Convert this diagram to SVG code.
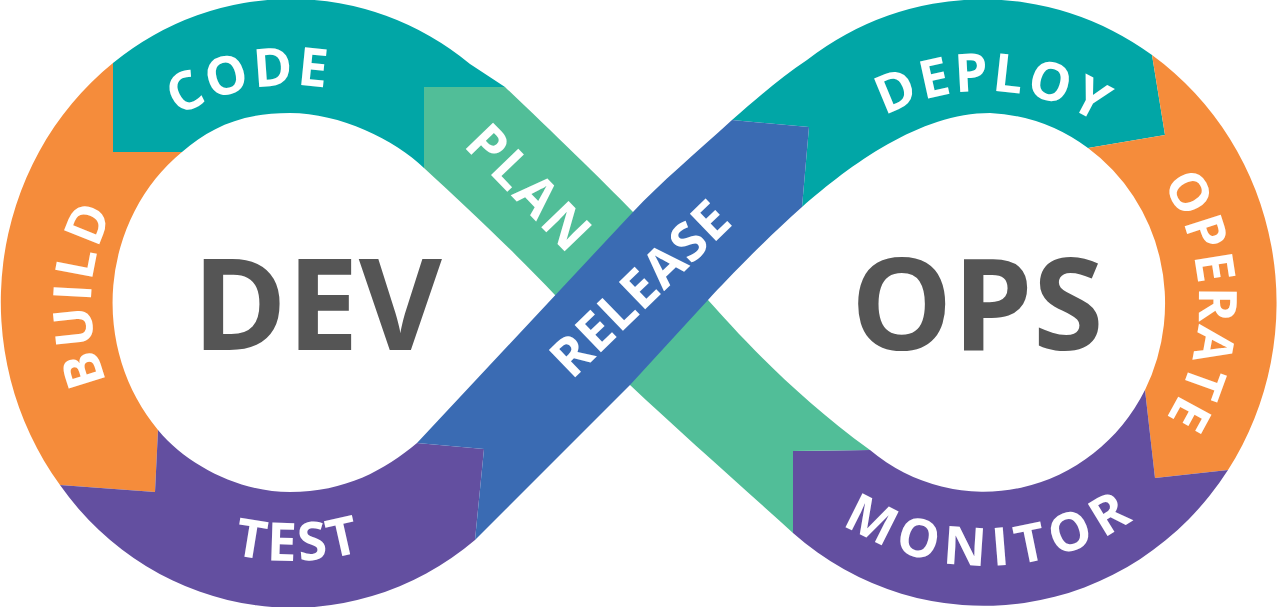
<svg xmlns="http://www.w3.org/2000/svg" width="1280" height="607" viewBox="0 0 1280 607">
<defs>
<style>
.teal{fill:#01A6A6}
.orange{fill:#F58C3B}
.purple{fill:#634FA0}
.blue{fill:#3A6BB3}
.green{fill:#51BE98}
.lbl{fill:#FFFFFF;font-family:"Open Sans","Liberation Sans",sans-serif;font-weight:700;font-size:53px;letter-spacing:3px}
.big{fill:#555555;font-family:"Open Sans","Liberation Sans",sans-serif;font-weight:700;font-size:128px}
</style>
<path id="pCode" d="M73,303 A218,218 0 0 1 509,303"/>
<path id="pBuild" d="M291,503 A200,200 0 0 1 291,103"/>
<path id="pTest" d="M33,303 A258,258 0 0 0 549,303"/>
<path id="pDeploy" d="M773,303 A212,212 0 0 1 1197,303"/>
<path id="pOperate" d="M985,90 A214,214 0 0 1 985,518"/>
<path id="pMonitor" d="M722,303 A263,263 0 0 0 1248,303"/>
</defs>
<rect width="1280" height="607" fill="#FFFFFF"/>

<g id="code">
<path class="teal" d="M113,152 L113,63 A289,302 0 0 1 470,64 L505,87 L424,87 L424,168 C395,140 340,113 290,113 C240,113 210,128 182,152 Z"/>
<text class="lbl"><textPath href="#pCode" startOffset="302" text-anchor="middle">CODE</textPath></text>
</g>
<g id="build">
<path class="orange" d="M113,63 L113,152 L182,152 A177,190 0 0 0 158,430 L155,492 L60,485 A289,302 0 0 1 113,63 Z"/>
<text class="lbl"><textPath href="#pBuild" startOffset="322" text-anchor="middle">BUILD</textPath></text>
</g>
<g id="test">
<path class="purple" d="M60,485 L155,492 L158,430 C188,466 240,492 290,492 C345,492 385,470 417,443 L484,449 L475,540 A289,302 0 0 1 60,485 Z"/>
<text class="lbl"><textPath href="#pTest" startOffset="413" text-anchor="middle">TEST</textPath></text>
</g>
<g id="deploy">
<path class="teal" d="M732,120 C755,100 780,78 807,60 A293,303 0 0 1 1152,55 L1165,135 L1088,148 A182,190 0 0 0 990,113 C920,113 850,165 802,207 L809,127 Z"/>
<text class="lbl"><textPath href="#pDeploy" startOffset="341" text-anchor="middle">DEPLOY</textPath></text>
</g>
<g id="operate">
<path class="orange" d="M1152,55 A293,303 0 0 1 1228,470 L1155,478 L1145,390 A182,190 0 0 0 1088,148 L1165,135 Z"/>
<text class="lbl" style="letter-spacing:2px"><textPath href="#pOperate" startOffset="333" text-anchor="middle">OPERATE</textPath></text>
</g>
<g id="monitor">
<path class="purple" d="M1228,470 A293,303 0 0 1 793,533 L793,451 L870,450 A182,190 0 0 0 1145,390 L1155,478 Z"/>
<text class="lbl" style="letter-spacing:8px"><textPath href="#pMonitor" startOffset="420" text-anchor="middle">MONITOR</textPath></text>
</g>
<g id="plan">
<path class="green" d="M424,87 L505,87 C550,130 600,178 633,212 L708,300 C735,330 790,392 870,450 L793,451 L793,533 C740,485 680,432 630,385 L555,295 C520,258 470,210 424,168 Z"/>
<text class="lbl" transform="translate(530,188) rotate(46)" y="19" text-anchor="middle">PLAN</text>
</g>
<g id="release">
<path class="blue" d="M417,443 L633,212 C660,183 697,152 732,120 L809,127 L802,207 C765,240 730,276 708,300 L630,385 L475,540 L484,449 Z"/>
<text class="lbl" style="letter-spacing:1px" transform="translate(640,288) rotate(-44)" y="19" text-anchor="middle">RELEASE</text>
</g>
<g id="dev">
<text class="big" x="317" y="350" text-anchor="middle">DEV</text>
</g>
<g id="ops">
<text class="big" x="977" y="350" text-anchor="middle">OPS</text>
</g>
<g id="connectors"/>
</svg>
